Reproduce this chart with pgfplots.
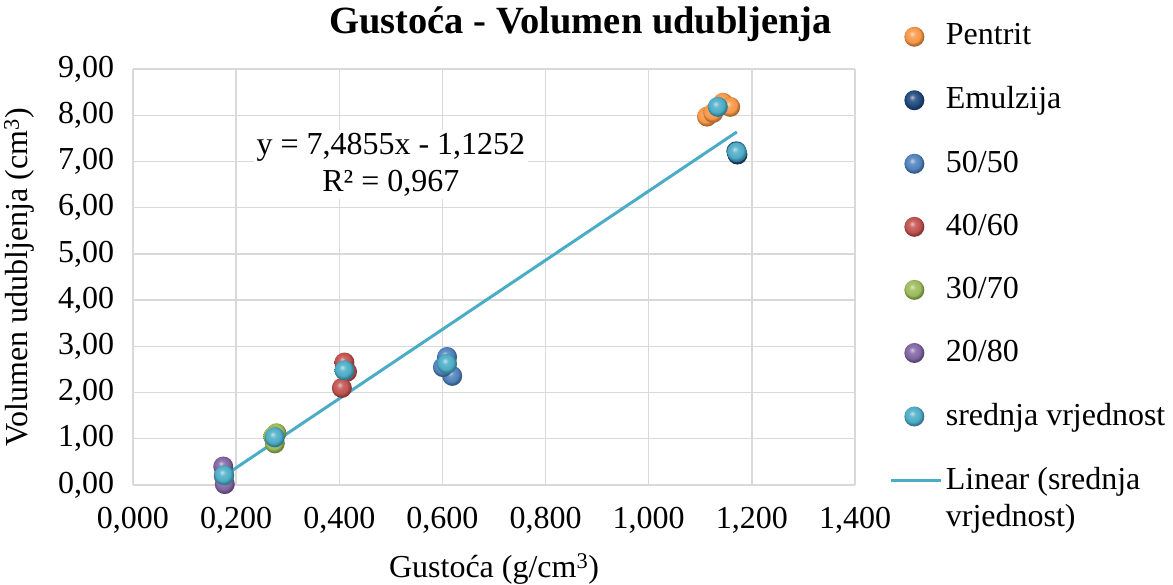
\documentclass[border=0pt]{standalone}
\usepackage{pgfplots}
\pgfplotsset{compat=1.18}
\usepackage{fontspec}
\setmainfont{Liberation Serif}
\definecolor{cPen}{HTML}{F79646}
\definecolor{cEmu}{HTML}{1F497D}
\definecolor{c50}{HTML}{4F81BD}
\definecolor{c40}{HTML}{C0504D}
\definecolor{c30}{HTML}{9BBB59}
\definecolor{c20}{HTML}{8064A2}
\definecolor{cSr}{HTML}{4BACC6}
\definecolor{gridc}{HTML}{D9D9D9}
\newcommand\defball[2]{%
  \pgfdeclareradialshading{sh#1}{\pgfpoint{-6bp}{8bp}}{color(0bp)=(#2!35!white); color(8bp)=(#2!85!white); color(19bp)=(#2); color(25bp)=(#2!70!black); color(50bp)=(#2!70!black)}%
  \pgfdeclareplotmark{gb#1}{\pgfpathcircle{\pgfpointorigin}{\pgfplotmarksize}\pgfshadepath{sh#1}{0}\pgfusepath{}}}
\defball{Pen}{cPen}
\defball{Emu}{cEmu}
\defball{Fif}{c50}
\defball{For}{c40}
\defball{Thi}{c30}
\defball{Twe}{c20}
\defball{Sr}{cSr}
\pgfplotsset{
  mlegend/.style={legend image code/.code={\path (0bp,0bp) (50bp,0bp); \draw[##1] plot coordinates {(23bp,0bp)};}},
  llegend/.style={legend image code/.code={\draw[##1] (0bp,18bp) -- (50bp,18bp);}},
}
\begin{document}
\fontsize{32bp}{37bp}\selectfont
\begin{tikzpicture}
\begin{axis}[
  scale only axis,
  width=722bp, height=416bp,
  xmin=0, xmax=1.4, ymin=0, ymax=9,
  xtick={0,0.2,...,1.4}, ytick={0,1,...,9},
  grid=major,
  major grid style={gridc, line width=1.3pt},
  axis line style={gridc, line width=1.3pt},
  tick style={draw=none},
  axis lines*=left,
  /pgf/number format/assume math mode=true,
  xticklabel style={yshift=-11bp, /pgf/number format/.cd, fixed, fixed zerofill, precision=3, use comma},
  yticklabel style={xshift=-8bp, /pgf/number format/.cd, fixed, fixed zerofill, precision=2, use comma},
  xlabel={Gustoća (g/cm\textsuperscript{3})},
  ylabel={Volumen udubljenja (cm\textsuperscript{3})},
  xlabel style={yshift=1bp},
  ylabel style={yshift=2bp},
  title={\textbf{Gustoća - Volumen udubljenja}},
  title style={at={(0.62,1.0)}, anchor=south, yshift=10bp, font=\fontsize{38.5bp}{43bp}\selectfont},
  legend style={at={(1.048,1.114)}, anchor=north west, draw=none, fill=none, inner sep=0pt,
    cells={anchor=west, align=left}, row sep=33bp,
    /tikz/every odd column/.append style={column sep=1bp},
    font=\fontsize{32bp}{37bp}\selectfont},
  legend cell align=left,
  clip=false,
  every axis plot/.append style={mark size=10bp},
]
\addplot[only marks, mark=gbPen, mlegend] coordinates {
 (1.113,7.97) (1.144,8.27) (1.158,8.18) (1.125,8.05)};
\addlegendentry{Pentrit}
\addplot[only marks, mark=gbEmu, mlegend] coordinates {
 (1.172,7.15) (1.170,7.22)};
\addlegendentry{Emulzija}
\addplot[only marks, mark=gbFif, mlegend] coordinates {
 (0.609,2.77) (0.619,2.36) (0.601,2.55)};
\addlegendentry{50/50}
\addplot[only marks, mark=gbFor, mlegend] coordinates {
 (0.410,2.65) (0.415,2.45) (0.405,2.10)};
\addlegendentry{40/60}
\addplot[only marks, mark=gbThi, mlegend] coordinates {
 (0.278,1.12) (0.275,0.90) (0.272,1.05)};
\addlegendentry{30/70}
\addplot[only marks, mark=gbTwe, mlegend] coordinates {
 (0.175,0.40) (0.176,0.20) (0.178,0.02)};
\addlegendentry{20/80}
\addplot[only marks, mark=gbSr, mlegend] coordinates {
 (0.177,0.21) (0.275,1.03) (0.410,2.48) (0.609,2.62) (1.134,8.18) (1.171,7.20)};
\addlegendentry{srednja vrjednost}
\addplot[cSr, line width=3bp, no marks, llegend] coordinates {(0.177,0.2) (1.171,7.64)};
\addlegendentry{Linear (srednja\\vrjednost)}
\node[fill=white, align=center, inner sep=3bp, font=\fontsize{32bp}{37bp}\selectfont] at (axis cs:0.50,6.93) {y = 7,4855x - 1,1252\\R² = 0,967};
\end{axis}
\pgfresetboundingbox
\useasboundingbox (-133bp,-100bp) rectangle (1040bp,485bp);
\end{tikzpicture}
\end{document}
